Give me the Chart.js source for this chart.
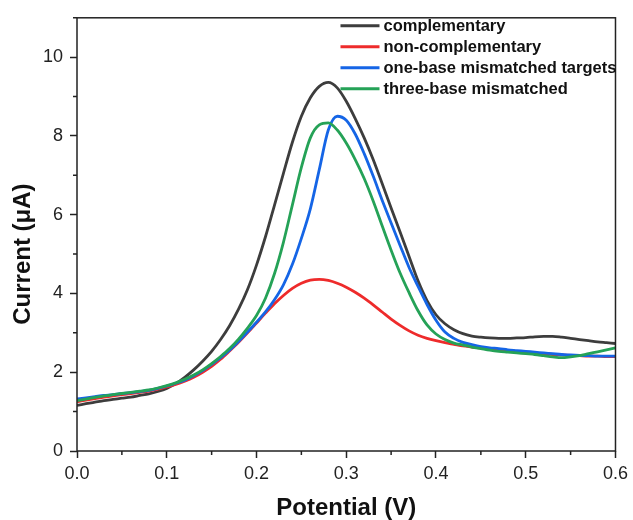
<!DOCTYPE html>
<html>
<head>
<meta charset="utf-8">
<script src="https://cdn.jsdelivr.net/npm/chart.js@4.4.1/dist/chart.umd.min.js"></script>
<style>
  html, body { margin: 0; padding: 0; background: #fff; }
  #wrap { width: 633px; height: 520px; }
</style>
</head>
<body>
<div id="wrap"><canvas id="myChart" width="633" height="520"></canvas></div>
<script>
// Potentiel (V)
const potential = [
  0.00, 0.01, 0.02, 0.03, 0.04, 0.05, 0.06, 0.07, 0.08, 0.09,
  0.10, 0.11, 0.12, 0.13, 0.14, 0.15, 0.16, 0.17, 0.18, 0.19,
  0.20, 0.21, 0.22, 0.23, 0.24, 0.25, 0.26, 0.27, 0.28, 0.29,
  0.30, 0.31, 0.32, 0.33, 0.34, 0.35, 0.36, 0.37, 0.38, 0.39,
  0.40, 0.41, 0.42, 0.43, 0.44, 0.45, 0.46, 0.47, 0.48, 0.49,
  0.50, 0.51, 0.52, 0.53, 0.54, 0.55, 0.56, 0.57, 0.58, 0.59, 0.60
];

// Courant (µA) pour chaque cible
const complementary = [
  1.16, 1.20, 1.24, 1.28, 1.31, 1.34, 1.37, 1.41, 1.45, 1.51,
  1.59, 1.71, 1.87, 2.06, 2.28, 2.53, 2.83, 3.18, 3.60, 4.10,
  4.72, 5.44, 6.24, 7.05, 7.84, 8.50, 8.97, 9.26, 9.36, 9.22,
  8.88, 8.44, 7.95, 7.40, 6.79, 6.17, 5.56, 4.94, 4.32, 3.82,
  3.46, 3.23, 3.08, 2.98, 2.92, 2.89, 2.87, 2.86, 2.86, 2.87,
  2.88, 2.90, 2.91, 2.91, 2.89, 2.86, 2.83, 2.80, 2.77, 2.75, 2.73
];
const nonComplementary = [
  1.25, 1.29, 1.33, 1.37, 1.40, 1.43, 1.46, 1.49, 1.52, 1.57,
  1.63, 1.69, 1.77, 1.87, 2.00, 2.15, 2.33, 2.54, 2.76, 3.00,
  3.25, 3.50, 3.74, 3.95, 4.13, 4.26, 4.34, 4.36, 4.33, 4.26,
  4.16, 4.03, 3.88, 3.71, 3.53, 3.35, 3.19, 3.05, 2.94, 2.86,
  2.80, 2.75, 2.71, 2.67, 2.64, 2.61, 2.59, 2.57, 2.55, 2.53,
  2.51, 2.49, 2.47, 2.45, 2.44, 2.43, 2.42, 2.41, 2.41, 2.40, 2.40
];
const oneBaseMismatch = [
  1.32, 1.35, 1.38, 1.41, 1.43, 1.46, 1.48, 1.51, 1.54, 1.59,
  1.65, 1.72, 1.80, 1.91, 2.04, 2.20, 2.37, 2.56, 2.78, 3.02,
  3.27, 3.53, 3.84, 4.22, 4.74, 5.40, 6.15, 7.15, 8.15, 8.50,
  8.40, 8.05, 7.55, 6.98, 6.37, 5.79, 5.22, 4.66, 4.18, 3.72,
  3.32, 3.02, 2.86, 2.76, 2.70, 2.65, 2.62, 2.60, 2.57, 2.55,
  2.53, 2.51, 2.49, 2.47, 2.45, 2.44, 2.43, 2.42, 2.41, 2.41, 2.41
];
const threeBaseMismatch = [
  1.28, 1.32, 1.36, 1.40, 1.43, 1.46, 1.49, 1.52, 1.55, 1.60,
  1.66, 1.73, 1.82, 1.93, 2.06, 2.22, 2.40, 2.60, 2.84, 3.12,
  3.44, 3.88, 4.50, 5.30, 6.25, 7.20, 7.95, 8.28, 8.33, 8.15,
  7.82, 7.40, 6.92, 6.35, 5.72, 5.10, 4.52, 4.02, 3.56, 3.20,
  2.97, 2.83, 2.74, 2.69, 2.64, 2.60, 2.56, 2.53, 2.51, 2.49,
  2.47, 2.45, 2.42, 2.39, 2.37, 2.39, 2.42, 2.47, 2.52, 2.57, 2.62
];

const seriesNames = ['complementary', 'non-complementary', 'one-base mismatched targets', 'three-base mismatched'];
const seriesColors = ['#3d3d3d', '#ee2b2b', '#1565e6', '#25a257'];
const seriesValues = [complementary, nonComplementary, oneBaseMismatch, threeBaseMismatch];
// ordre de dessin : le vert au-dessus, le noir en dessous
const seriesOrder = [3, 2, 1, 0];

const yTitle = 'Current (\u03bcA)';
const FONT = "'Liberation Sans', Arial, sans-serif";

// Cadre, petites graduations, titre vertical et légende
const extrasPlugin = {
  id: 'extras',
  afterDraw(chart) {
    const ctx = chart.ctx;
    const area = chart.chartArea;
    const xs = chart.scales.x;
    const ys = chart.scales.y;
    ctx.save();
    ctx.strokeStyle = '#222';
    ctx.lineWidth = 1.5;
    ctx.strokeRect(area.left, area.top, area.right - area.left, area.bottom - area.top);

    // petites graduations entre les grandes
    ctx.beginPath();
    for (let i = 0; i < xs.ticks.length - 1; i++) {
      const px = xs.getPixelForValue((xs.ticks[i].value + xs.ticks[i + 1].value) / 2);
      ctx.moveTo(px, area.bottom);
      ctx.lineTo(px, area.bottom + 4);
    }
    for (let i = 0; i < ys.ticks.length; i++) {
      const v = ys.ticks[i].value + 1;
      if (v > ys.max) continue;
      const py = ys.getPixelForValue(v);
      ctx.moveTo(area.left, py);
      ctx.lineTo(area.left - 4, py);
    }
    ctx.stroke();

    // titre de l'axe Y (un peu plus bas que le centre, comme l'original)
    ctx.save();
    ctx.translate(23.5, ys.getPixelForValue(5));
    ctx.rotate(-Math.PI / 2);
    ctx.font = 'bold 24px ' + FONT;
    ctx.fillStyle = '#111';
    ctx.textAlign = 'center';
    ctx.textBaseline = 'middle';
    ctx.fillText(yTitle, 0, 0);
    ctx.restore();

    // légende
    ctx.font = 'bold 16.5px ' + FONT;
    ctx.textBaseline = 'middle';
    ctx.textAlign = 'left';
    chart.data.datasets.forEach((ds, i) => {
      const y = area.top + 8 + i * 21;
      ctx.strokeStyle = ds.borderColor;
      ctx.lineWidth = 3;
      ctx.beginPath();
      ctx.moveTo(area.right - 275, y);
      ctx.lineTo(area.right - 236, y);
      ctx.stroke();
      ctx.fillStyle = '#111';
      ctx.fillText(ds.label, area.right - 232, y + 1);
    });
    ctx.restore();
  }
};

const ctx = document.getElementById('myChart').getContext('2d');
new Chart(ctx, {
  type: 'line',
  data: {
    datasets: seriesNames.map((name, index) => ({
      label: name,
      data: potential.map((p, k) => ({ x: p, y: seriesValues[index][k] })),
      borderColor: seriesColors[index],
      borderWidth: 2.8,
      pointRadius: 0,
      cubicInterpolationMode: 'monotone',
      fill: false,
      order: seriesOrder[index]
    }))
  },
  options: {
    responsive: false,
    animation: false,
    devicePixelRatio: 1,
    layout: { padding: { top: 14, right: 14, left: 0, bottom: 0 } },
    plugins: {
      legend: { display: false },
      tooltip: { enabled: false }
    },
    scales: {
      x: {
        type: 'linear',
        min: 0,
        max: 0.6,
        afterFit: scale => { scale.height = 69; },
        grid: { drawOnChartArea: false, tickLength: 7, tickColor: '#222', tickWidth: 1.5 },
        border: { display: false },
        ticks: {
          stepSize: 0.1,
          padding: 5,
          color: '#222',
          font: { family: FONT, size: 18 },
          callback: v => v.toFixed(1)
        },
        title: {
          display: true,
          text: 'Potential (V)',
          color: '#111',
          font: { family: FONT, size: 24, weight: 'bold' },
          padding: { top: 0, bottom: -3 }
        }
      },
      y: {
        min: 0,
        max: 11,
        afterFit: scale => { scale.width = 77; },
        grid: { drawOnChartArea: false, tickLength: 7, tickColor: '#222', tickWidth: 1.5 },
        border: { display: false },
        ticks: {
          stepSize: 2,
          includeBounds: false,
          padding: 7,
          color: '#222',
          font: { family: FONT, size: 18 }
        }
      }
    }
  },
  plugins: [extrasPlugin]
});
</script>
</body>
</html>
